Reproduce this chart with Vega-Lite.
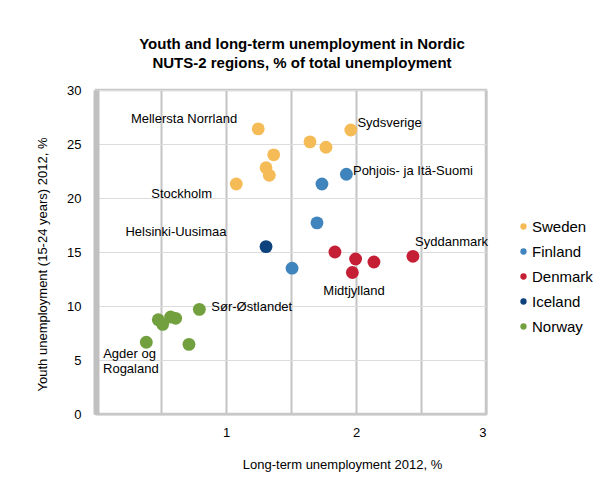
{
  "$schema": "https://vega.github.io/schema/vega-lite/v6.json",
  "autosize": "none",
  "width": 390,
  "height": 324,
  "padding": {"left": 96, "top": 90, "right": 121, "bottom": 87},
  "background": "white",
  "title": {
    "text": ["Youth and long-term unemployment in Nordic", "NUTS-2 regions, % of total unemployment"],
    "font": "Liberation Sans",
    "fontSize": 15,
    "fontWeight": "bold",
    "color": "#000000",
    "anchor": "middle",
    "frame": "group",
    "dx": 11,
    "offset": 13,
    "lineHeight": 19
  },
  "config": {
    "font": "Liberation Sans",
    "view": {"stroke": "#c8c8c8", "strokeWidth": 2.5}
  },
  "datasets": {
    "points": [
      {"country": "Sweden", "lt": 1.248, "youth": 26.4},
      {"country": "Sweden", "lt": 1.96, "youth": 26.3},
      {"country": "Sweden", "lt": 1.646, "youth": 25.2},
      {"country": "Sweden", "lt": 1.769, "youth": 24.7},
      {"country": "Sweden", "lt": 1.367, "youth": 24.0},
      {"country": "Sweden", "lt": 1.308, "youth": 22.8},
      {"country": "Sweden", "lt": 1.333, "youth": 22.1},
      {"country": "Sweden", "lt": 1.079, "youth": 21.3},
      {"country": "Finland", "lt": 1.926, "youth": 22.2},
      {"country": "Finland", "lt": 1.738, "youth": 21.3},
      {"country": "Finland", "lt": 1.70, "youth": 17.7},
      {"country": "Finland", "lt": 1.508, "youth": 13.5},
      {"country": "Iceland", "lt": 1.308, "youth": 15.5},
      {"country": "Denmark", "lt": 1.838, "youth": 15.0},
      {"country": "Denmark", "lt": 1.997, "youth": 14.35},
      {"country": "Denmark", "lt": 2.138, "youth": 14.07},
      {"country": "Denmark", "lt": 2.438, "youth": 14.6},
      {"country": "Denmark", "lt": 1.972, "youth": 13.1},
      {"country": "Norway", "lt": 0.795, "youth": 9.69},
      {"country": "Norway", "lt": 0.479, "youth": 8.73},
      {"country": "Norway", "lt": 0.513, "youth": 8.3},
      {"country": "Norway", "lt": 0.574, "youth": 8.98},
      {"country": "Norway", "lt": 0.613, "youth": 8.86},
      {"country": "Norway", "lt": 0.387, "youth": 6.64},
      {"country": "Norway", "lt": 0.715, "youth": 6.45}
    ],
    "labels": [
      {"label": "Mellersta Norrland", "lt": 0.677, "youth": 27.31},
      {"label": "Sydsverige", "lt": 2.258, "youth": 26.92},
      {"label": "Pohjois- ja Itä-Suomi", "lt": 2.438, "youth": 22.5},
      {"label": "Stockholm", "lt": 0.659, "youth": 20.34},
      {"label": "Helsinki-Uusimaa", "lt": 0.615, "youth": 16.88},
      {"label": "Syddanmark", "lt": 2.735, "youth": 15.95},
      {"label": "Midtjylland", "lt": 1.985, "youth": 11.39},
      {"label": "Sør-Østlandet", "lt": 1.198, "youth": 9.94},
      {"label": "Agder og", "lt": 0.258, "youth": 5.56},
      {"label": "Rogaland", "lt": 0.268, "youth": 4.19}
    ]
  },
  "layer": [
    {
      "data": {"name": "points"},
      "mark": {"type": "circle", "size": 165, "opacity": 1},
      "encoding": {
        "x": {
          "field": "lt", "type": "quantitative",
          "scale": {"domain": [0, 3], "nice": false, "zero": true},
          "axis": {
            "title": "Long-term unemployment 2012, %",
            "values": [0.5, 1, 1.5, 2, 2.5, 3],
            "labelExpr": "datum.value % 1 == 0 ? format(datum.value, 'd') : ''",
            "grid": true,
            "gridColor": "#c4c4c4",
            "gridWidth": 2,
            "gridOpacity": 1,
            "domain": true,
            "domainColor": "#c8c8c8",
            "domainWidth": 2,
            "ticks": false,
            "labelFont": "Liberation Sans",
            "labelFontSize": 13,
            "labelColor": "#000000",
            "labelPadding": 12,
            "titleFont": "Liberation Sans",
            "titleFontSize": 13,
            "titleFontWeight": "normal",
            "titleColor": "#000000",
            "titleX": 246,
            "titleY": 44,
            "titleAnchor": "middle"
          }
        },
        "y": {
          "field": "youth", "type": "quantitative",
          "scale": {"domain": [0, 30], "nice": false},
          "axis": {
            "title": "Youth unemployment (15-24 years) 2012, %",
            "values": [0, 5, 10, 15, 20, 25, 30],
            "grid": true,
            "gridColor": "#dcdcdc",
            "gridWidth": 1,
            "gridOpacity": 1,
            "domain": true,
            "domainColor": "#c0c0c0",
            "domainWidth": 6,
            "ticks": false,
            "labelFont": "Liberation Sans",
            "labelFontSize": 13,
            "labelColor": "#000000",
            "labelPadding": 15,
            "titleFont": "Liberation Sans",
            "titleFontSize": 13,
            "titleFontWeight": "normal",
            "titleColor": "#000000",
            "titleX": -54,
            "titleY": 174,
            "titleAngle": -90,
            "titleAnchor": "middle",
            "titleBaseline": "middle"
          }
        },
        "color": {
          "field": "country", "type": "nominal",
          "scale": {
            "domain": ["Sweden", "Finland", "Denmark", "Iceland", "Norway"],
            "range": ["#f5bb57", "#3f84bc", "#c41f35", "#0e427d", "#72a03f"]
          },
          "legend": {
            "title": null,
            "orient": "none",
            "legendX": 420,
            "legendY": 129,
            "symbolType": "circle",
            "symbolSize": 40,
            "symbolStrokeWidth": 0,
            "labelFont": "Liberation Sans",
            "labelFontSize": 15,
            "labelColor": "#000000",
            "labelOffset": 1,
            "rowPadding": 9,
            "padding": 0
          }
        }
      }
    },
    {
      "data": {"name": "labels"},
      "mark": {"type": "text", "font": "Liberation Sans", "fontSize": 13, "color": "#000000", "align": "center", "baseline": "middle"},
      "encoding": {
        "x": {"field": "lt", "type": "quantitative"},
        "y": {"field": "youth", "type": "quantitative"},
        "text": {"field": "label"}
      }
    }
  ]
}
